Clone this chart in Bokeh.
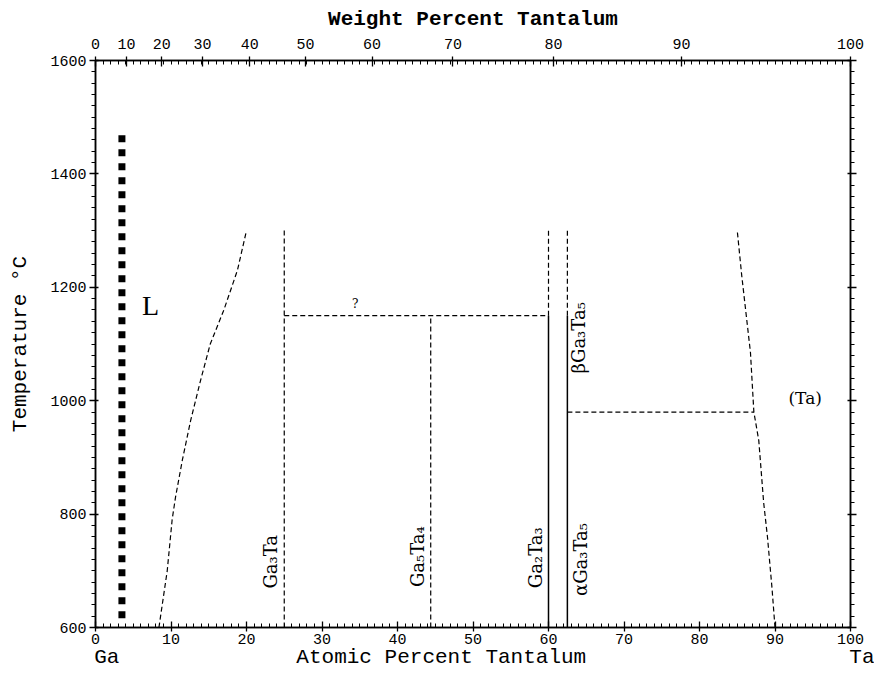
import math
from bokeh.plotting import figure
from bokeh.models import (Range1d, LinearAxis, FixedTicker, SingleIntervalTicker,
                          CustomJSTickFormatter, Label)
from bokeh.embed import file_html
from bokeh.resources import INLINE

# ---------------- data ----------------
M_GA = 69.723
M_TA = 180.948

# left liquidus (at.% Ta, T degC)
liq_x = [8.4, 9.5, 10.15, 10.6, 11.5, 12.6, 13.9, 15.2, 17.0, 18.8, 20.0]
liq_t = [600, 700, 790, 830, 895, 965, 1035, 1100, 1160, 1230, 1300]

# (Ta) solvus
ta_x = [90.0, 89.6, 89.0, 88.5, 87.85, 87.2, 86.75, 85.6, 85.0]
ta_t = [600, 670, 760, 820, 930, 980, 1085, 1220, 1300]

# dashed segments (x0, t0, x1, t1)
dash_x0 = [25.0, 44.4, 25.0, 60.0, 62.5, 62.5]
dash_t0 = [600, 600, 1150, 1150, 1150, 980]
dash_x1 = [25.0, 44.4, 60.0, 60.0, 62.5, 87.2]
dash_t1 = [1300, 1150, 1150, 1300, 1300, 980]

# solid segments
solid_x0 = [60.0, 62.5]
solid_t0 = [600, 600]
solid_x1 = [60.0, 62.5]
solid_t1 = [1150, 1150]

# thick dotted column
sq_x = [3.5, 3.5]
sq_t = [1468, 612]

# axis ticks
wt_ticks = [0, 10, 20, 30, 40, 50, 60, 70, 80, 90, 100]
at_ticks_minor = list(range(0, 101))

# bottom captions (position on the at.% axis -> text)
caption_pos = [1.5, 45.8, 100.0]
caption_text = ["Ga", "Atomic Percent Tantalum", "\u00a0\u00a0Ta"]


def wt_to_at(w):
    a = w / M_TA
    g = (100 - w) / M_GA
    return 100.0 * a / (a + g)


top_tick_pos = [wt_to_at(w) for w in wt_ticks]

MONO = "Liberation Mono"
SERIF = "DejaVu Serif"

p = figure(width=874, height=676, output_backend="svg", toolbar_location=None,
           x_range=Range1d(0, 100), y_range=Range1d(600, 1600),
           min_border_left=95, min_border_right=24, min_border_top=60,
           min_border_bottom=49, background_fill_color="white",
           border_fill_color="white")
p.grid.visible = False
p.outline_line_color = "black"
p.outline_line_width = 1.5

# bottom axis
xa = p.xaxis[0]
xa.ticker = SingleIntervalTicker(interval=10, num_minor_ticks=10)
# left axis
ya = p.yaxis[0]
ya.ticker = SingleIntervalTicker(interval=200, num_minor_ticks=10)

top = LinearAxis(ticker=FixedTicker(ticks=top_tick_pos, minor_ticks=at_ticks_minor),
                 formatter=CustomJSTickFormatter(code="""
                    const Mga = %f, Mta = %f;
                    const w = 100*tick*Mta/(tick*Mta + (100-tick)*Mga);
                    return Math.round(w).toString();
                 """ % (M_GA, M_TA)))
p.add_layout(top, "above")
right = LinearAxis(ticker=SingleIntervalTicker(interval=200, num_minor_ticks=10),
                   formatter=CustomJSTickFormatter(code="return '';"))
p.add_layout(right, "right")

for ax in [xa, ya, top, right]:
    ax.axis_line_color = "black"
    ax.axis_line_width = 1.5
    ax.major_tick_line_color = "black"
    ax.minor_tick_line_color = "black"
    ax.major_tick_line_width = 1.3
    ax.minor_tick_line_width = 1.0
    ax.major_label_text_font = MONO
    ax.major_label_text_font_size = "15px"
    ax.major_label_text_color = "black"
    ax.major_label_standoff = 3

right.major_label_text_color = None
xa.major_label_standoff = 2
top.major_label_standoff = 8

xa.major_tick_in, xa.major_tick_out = 6, 4
xa.minor_tick_in, xa.minor_tick_out = 4, 0
top.major_tick_in, top.major_tick_out = 6, 4
top.minor_tick_in, top.minor_tick_out = 4, 0
ya.major_tick_in, ya.major_tick_out = 3, 6
ya.minor_tick_in, ya.minor_tick_out = 0, 4
right.major_tick_in, right.major_tick_out = 3, 6
right.minor_tick_in, right.minor_tick_out = 0, 4

# axis titles
top.axis_label = "Weight Percent Tantalum"
top.axis_label_text_font = MONO
top.axis_label_text_font_size = "21px"
top.axis_label_text_font_style = "bold"
top.axis_label_text_color = "black"
top.axis_label_standoff = 5

ya.axis_label = "Temperature °C"
ya.axis_label_text_font = MONO
ya.axis_label_text_font_size = "21px"
ya.axis_label_text_font_style = "normal"
ya.axis_label_text_color = "black"
ya.axis_label_standoff = 15

# second bottom axis carrying "Ga  Atomic Percent Tantalum  Ta"
cap = LinearAxis(ticker=FixedTicker(ticks=caption_pos, minor_ticks=[]),
                 major_label_overrides={k: v for k, v in zip(caption_pos, caption_text)})
cap.axis_line_color = None
cap.major_tick_line_color = None
cap.minor_tick_line_color = None
cap.major_tick_in, cap.major_tick_out = 0, 0
cap.major_label_standoff = -1
cap.major_label_text_font = MONO
cap.major_label_text_font_size = "21px"
cap.major_label_text_color = "black"
p.add_layout(cap, "below")

# ---- glyphs ----
p.line(sq_x, sq_t, line_color="black", line_width=7, line_dash="7 7",
       line_cap="butt")
p.line(liq_x, liq_t, line_color="black", line_width=1.2, line_dash="5 3")
p.line(ta_x, ta_t, line_color="black", line_width=1.2, line_dash="5 3")
p.segment(dash_x0, dash_t0, dash_x1, dash_t1, line_color="black",
          line_width=1.2, line_dash="5 3")
p.segment(solid_x0, solid_t0, solid_x1, solid_t1, line_color="black",
          line_width=1.5)


def lab(x, y, text, font=SERIF, size="18px", angle=0.0, style="normal",
        align="center"):
    p.add_layout(Label(x=x, y=y, text=text, text_font=font,
                       text_font_size=size, angle=angle, text_align=align,
                       text_baseline="middle", text_color="black",
                       text_font_style=style))


lab(7.3, 1168, "L", font="Liberation Serif", size="28px")
lab(34.4, 1170, "?", size="12px")
lab(94.0, 1005, "(Ta)", size="17px")

rot = math.pi / 2
lab(23.2, 716, "Ga₃Ta", angle=rot)
lab(42.6, 725, "Ga₅Ta₄", angle=rot)
lab(58.3, 723, "Ga₂Ta₃", angle=rot)
lab(64.2, 720, "αGa₃Ta₅", angle=rot)
lab(64.0, 1111, "βGa₃Ta₅", angle=rot)

open("out.html", "w").write(file_html(p, INLINE))
